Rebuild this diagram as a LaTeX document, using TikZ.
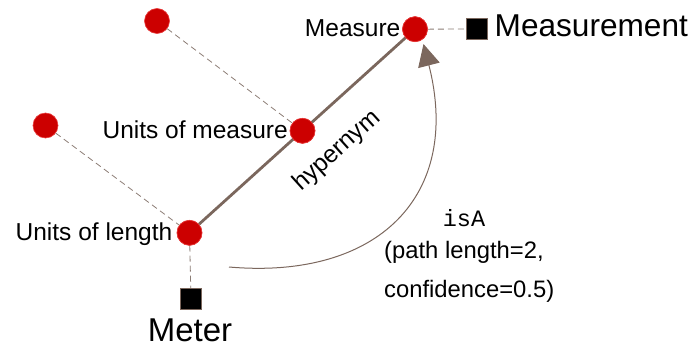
\documentclass[tikz,border=0pt]{standalone}
\usepackage{fontspec}
\setmainfont{Liberation Sans}
\setmonofont{Liberation Mono}
\usetikzlibrary{arrows.meta}
\definecolor{nodered}{HTML}{CC0000}
\definecolor{nodeedge}{HTML}{E83A3A}
\definecolor{linebrown}{HTML}{7B675D}
\definecolor{dashbrown}{HTML}{8C7D75}
\tikzset{
  dot/.style={circle, fill=nodered, draw=nodeedge, line width=0.6pt, minimum size=25pt, inner sep=0pt},
  sq/.style={rectangle, fill=black, draw=linebrown, line width=0.6pt, minimum size=21pt, inner sep=0pt},
  lbl/.style={inner sep=0pt, font=\fontsize{24.5}{26}\selectfont},
  txt/.style={inner sep=0pt, font=\fontsize{23.8}{26}\selectfont},
  biglbl/.style={inner sep=0pt},
  dashlink/.style={draw=dashbrown, line width=0.8pt, dash pattern=on 6pt off 4pt},
  hyper/.style={draw=linebrown, line width=2.8pt},
  isarrow/.style={draw=linebrown, line width=1pt, -{Triangle[length=22pt, width=22pt]}}
}
\begin{document}
\begin{tikzpicture}[x=1pt, y=-1pt]
\useasboundingbox (0,0) rectangle (698,345);
% circles
\node[dot] (tl) at (157,21) {};
\node[dot] (l) at (45.5,125.5) {};
\node[dot] (measure) at (415,29.2) {};
\node[dot] (uom) at (302.5,130.8) {};
\node[dot] (uol) at (189.5,232.8) {};
% squares
\node[sq] (measurement) at (476.5,29) {};
\node[sq] (meter) at (191,299) {};
% connectors
\draw[dashlink] (tl) -- (uom);
\draw[dashlink] (l) -- (uol);
\draw[dashlink] (uol) -- (meter);
\draw[dashlink] (measure) -- (measurement);
\draw[hyper] (uol) -- (measure);
% redraw circles on top of the hypernym line
\node[dot] at (uom) {};
\node[dot] at (uol) {};
\node[dot] at (measure) {};
% labels
\node[lbl, anchor=base east] (tuol) at (172.5,240.7) {Units of length};
\node[lbl, anchor=base east] (tuom) at (288,138) {Units of measure};
\node[lbl, anchor=base east] (tmeasure) at (400.5,36.7) {Measure};
\node[biglbl, anchor=base west, font=\fontsize{31.6}{34}\selectfont] (tmeasurement) at (494.5,36.5) {Measurement};
\node[biglbl, anchor=base, font=\fontsize{33}{35}\selectfont] (tmeter) at (190,341) {Meter};
\node[lbl, rotate=42] (thyper) at (337,151) {hypernym};
% isA arc
\coordinate (isAstart) at (229,267);
\coordinate (isAend) at (423.5,44);
\draw[isarrow] (isAstart) .. controls (379,280) and (462,195) .. (isAend);
\node[inner sep=0pt, anchor=base, font=\ttfamily\fontsize{23.5}{26}\selectfont] (tisa) at (464,226) {isA};
\node[txt, anchor=base west] (tpath) at (384,258) {(path length=2,};
\node[txt, anchor=base west] (tconf) at (384,297.3) {confidence=0.5)};
\end{tikzpicture}
\end{document}
